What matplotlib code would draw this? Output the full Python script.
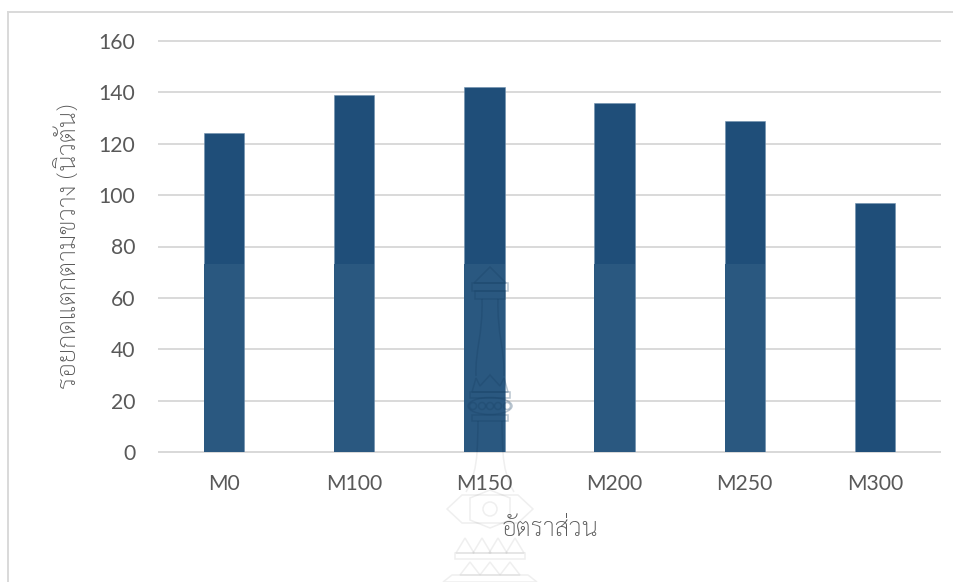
import numpy as np
import matplotlib
matplotlib.use('Agg')
import matplotlib.pyplot as plt
from matplotlib.patches import Polygon, Circle, Ellipse, PathPatch
from matplotlib.path import Path
from matplotlib.lines import Line2D

plt.rcParams['font.family'] = ['Lato', 'Open Sans', 'DejaVu Sans']
THAI = ['Sarabun', 'Noto Sans Thai', 'DejaVu Sans']

categories = ['M0', 'M100', 'M150', 'M200', 'M250', 'M300']
strength = [124, 139, 142, 136, 129, 97]
y_ticks = [0, 20, 40, 60, 80, 100, 120, 140, 160]
band_top = 73
band_cats = ['M0', 'M100', 'M150', 'M200', 'M250']

W, H = 954, 582
fig = plt.figure(figsize=(W / 100, H / 100), dpi=100, facecolor='white')

def px_box(x0, y0, x1, y1):
    return [x0 / W, 1 - y1 / H, (x1 - x0) / W, (y1 - y0) / H]

ax = fig.add_axes(px_box(159, 41, 940, 452))
x = np.arange(len(categories))
ax.bar(x, strength, width=0.31, color='#1f4e79', edgecolor='#6f8fae', linewidth=0.4, zorder=3)

# paler lower part of the columns
band_x = [categories.index(c) for c in band_cats]
ax.bar(band_x, [band_top] * len(band_x), width=0.31, color='#2a5880', zorder=4)

ax.set_xlim(-0.5, 5.5)
ax.set_ylim(0, 160)
ax.set_yticks(y_ticks)
ax.set_xticks(x)
ax.set_xticklabels(categories)
ax.grid(axis='y', color='#d9d9d9', linewidth=1.4, zorder=0, clip_on=False)
ax.set_axisbelow(True)
for s in ['top', 'right', 'left']:
    ax.spines[s].set_visible(False)
ax.spines['bottom'].set_color('#d9d9d9')
ax.spines['bottom'].set_linewidth(1.4)
ax.tick_params(length=0, labelsize=15.2, labelcolor='#595959')
ax.tick_params(axis='y', pad=17)
ax.tick_params(axis='x', pad=16)

# chart frame, open at the right and bottom
fig.add_artist(Line2D([8.5 / W, 8.5 / W], [0, 1 - 12 / H], color='#d9d9d9', lw=1.4))
fig.add_artist(Line2D([8.5 / W, 1], [1 - 12 / H, 1 - 12 / H], color='#d9d9d9', lw=1.4))

fig.text(70 / W, 1 - 246 / H, 'รอยกดแตกตามขวาง (นิวตัน)', rotation=90, ha='center', va='center',
         fontsize=18.5, color='#595959', family=THAI, weight='light')
fig.text(550 / W, 1 - 529 / H, 'อัตราส่วน', ha='center', va='center', fontsize=18.6,
         color='#595959', family=THAI, weight='light')

# faint emblem drawn over the page, in pixel coordinates
over = fig.add_axes([0, 0, 1, 1], zorder=5)
over.set_xlim(0, W)
over.set_ylim(H, 0)
over.axis('off')

upper = dict(fill=False, edgecolor='#173f63', alpha=0.30, lw=1.1)
lower = dict(fill=False, edgecolor='#505050', alpha=0.09, lw=1.1)

upper_outlines = [
    [(490, 267), (474, 283), (506, 283)],
    [(472, 283), (508, 283), (508, 291), (472, 291)],
    [(475, 291), (505, 291), (505, 299), (475, 299)],
    [(470, 392), (510, 392), (510, 398), (470, 398)],
    [(472, 415), (508, 415), (508, 421), (472, 421)],
    [(490, 375), (480, 386), (476, 378), (472, 392), (508, 392), (504, 378), (500, 386)],
]
lower_outlines = [
    [(447, 509), (462, 495), (518, 495), (533, 509), (518, 523), (462, 523)],
    [(470, 498), (490, 490), (510, 498), (510, 520), (490, 528), (470, 520)],
    [(465, 538), (456, 553), (474, 553)],
    [(482, 538), (473, 553), (491, 553)],
    [(498, 538), (489, 553), (507, 553)],
    [(515, 538), (506, 553), (524, 553)],
    [(455, 553), (525, 553), (525, 559), (455, 559)],
    [(470, 562), (460, 575), (480, 575)],
    [(490, 562), (480, 575), (500, 575)],
    [(510, 562), (500, 575), (520, 575)],
    [(443, 582), (452, 575), (528, 575), (537, 582)],
]
for pts in upper_outlines:
    over.add_patch(Polygon(pts, closed=True, **upper))
for pts in lower_outlines:
    over.add_patch(Polygon(pts, closed=True, **lower))

# column shaft with its curved sides
for side in (-1, 1):
    shaft = Path([(490 + side * 8, 299), (490 + side * 7, 335), (490 + side * 15, 350), (490 + side * 14, 376)],
                 [Path.MOVETO, Path.CURVE4, Path.CURVE4, Path.CURVE4])
    over.add_patch(PathPatch(shaft, **upper))
    neck = Path([(490 + side * 12, 421), (490 + side * 12, 437), (490 + side * 13, 452)],
                [Path.MOVETO, Path.CURVE3, Path.CURVE3])
    over.add_patch(PathPatch(neck, **upper))
    foot = Path([(490 + side * 13, 452), (490 + side * 14, 475), (490 + side * 24, 492)],
                [Path.MOVETO, Path.CURVE3, Path.CURVE3])
    over.add_patch(PathPatch(foot, **lower))

# row of beads on the collar
over.add_patch(Ellipse((490, 406), 44, 17, **upper))
for cx in (473, 482, 490, 498, 507):
    over.add_patch(Circle((cx, 406), 3.5, **upper))
over.add_patch(Circle((490, 509), 7, **lower))

fig.savefig('out.png', dpi=100)
